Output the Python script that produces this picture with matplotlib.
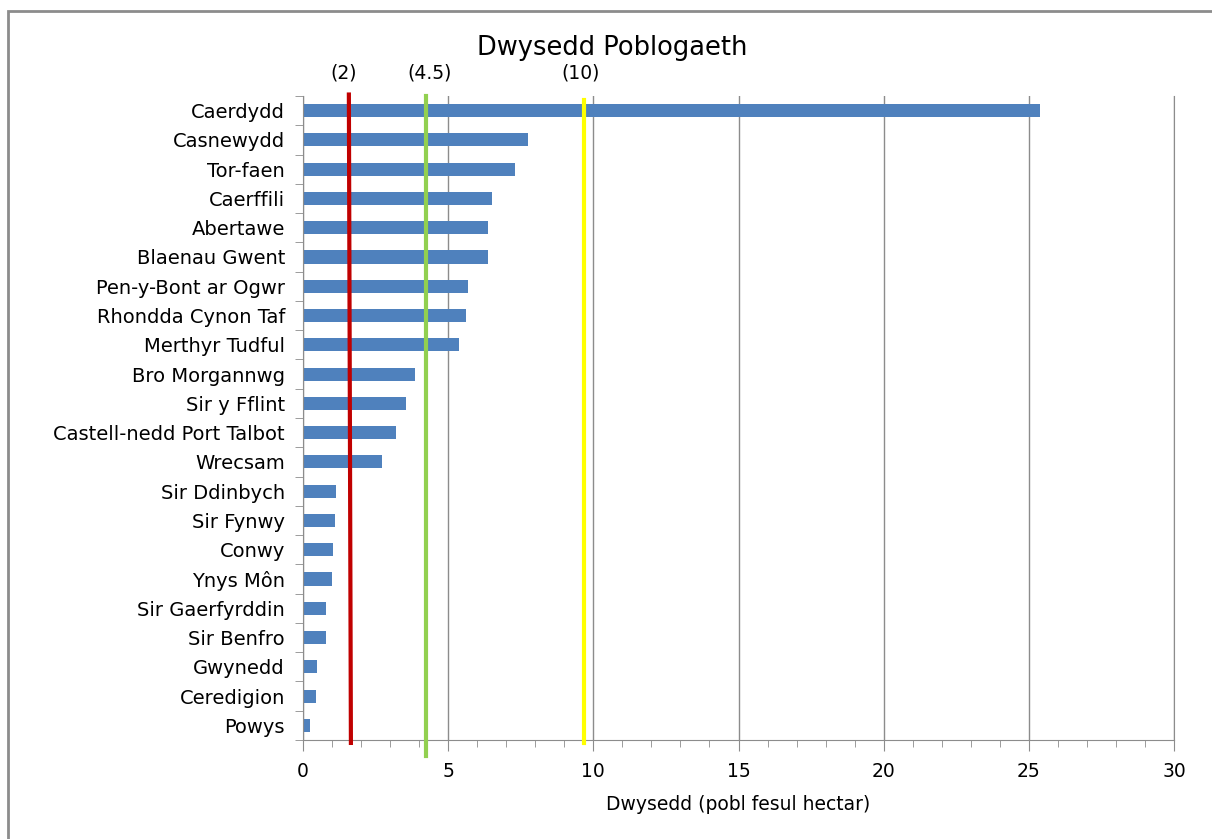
import numpy as np
import matplotlib
matplotlib.use("Agg")
import matplotlib.pyplot as plt
from matplotlib.patches import Rectangle

# data
areas = ["Caerdydd", "Casnewydd", "Tor-faen", "Caerffili", "Abertawe",
         "Blaenau Gwent", "Pen-y-Bont ar Ogwr", "Rhondda Cynon Taf",
         "Merthyr Tudful", "Bro Morgannwg", "Sir y Fflint",
         "Castell-nedd Port Talbot", "Wrecsam", "Sir Ddinbych", "Sir Fynwy",
         "Conwy", "Ynys Môn", "Sir Gaerfyrddin", "Sir Benfro", "Gwynedd",
         "Ceredigion", "Powys"]
density = [25.39, 7.75, 7.30, 6.51, 6.37, 6.37, 5.68, 5.61, 5.37, 3.86, 3.55,
           3.20, 2.72, 1.14, 1.10, 1.03, 1.00, 0.79, 0.79, 0.48, 0.45, 0.24]

# marker lines: (x top, x bottom), label
line_red = (1.58, 1.65)
line_green = (4.24, 4.24)
line_yellow = (9.68, 9.68)
line_labels = ["(2)", "(4.5)", "(10)"]
label_x = [1.4, 4.35, 9.55]

plt.rcParams['font.family'] = ['DejaVu Sans']

fig = plt.figure(figsize=(12.12, 8.39), dpi=100)
fig.patches.append(Rectangle((8/1212, -0.1), 1.2, 1 - 8/839 + 0.1 - 0.003,
                             transform=fig.transFigure, fill=False,
                             edgecolor="#8c8c8c", linewidth=2))
ax = fig.add_axes([303/1212, 1 - 740/839, (1174-303)/1212, (740-96)/839])

y = np.arange(len(areas))
ax.barh(y, density, height=0.45, color="#4F81BD", zorder=2)
ax.set_ylim(len(areas) - 0.5, -0.5)
ax.set_xlim(0, 30)
ax.set_yticks(y)
ax.set_yticklabels(areas, fontsize=14)
ax.set_yticks(np.arange(-0.5, len(areas) + 0.5, 1), minor=True)
ax.tick_params(axis='y', which='major', length=0, pad=13)
ax.tick_params(axis='y', which='minor', length=6, color="#8c8c8c")

ax.set_xticks(np.arange(0, 31, 5))
ax.set_xticks(np.arange(0, 31, 1), minor=True)
ax.tick_params(axis='x', which='major', length=8, color="#8c8c8c", labelsize=13.5, pad=8)
ax.tick_params(axis='x', which='minor', length=5, color="#8c8c8c")
ax.grid(axis='x', which='major', color="#8c8c8c", linewidth=1, zorder=0)
ax.set_axisbelow(True)

ax.spines["top"].set_visible(False)
for s in ["left", "bottom", "right"]:
    ax.spines[s].set_color("#8c8c8c")

ax.set_xlabel("Dwysedd (pobl fesul hectar)", fontsize=13.5, labelpad=10)

# coloured marker lines
ax.plot(line_red, [-0.55, 21.6], color="#C00000", linewidth=3, zorder=3, clip_on=False)
ax.plot(line_green, [-0.5, 22.05], color="#92D050", linewidth=3, zorder=3, clip_on=False)
ax.plot(line_yellow, [-0.35, 21.6], color="#FFFF00", linewidth=3, zorder=3, clip_on=False)

for lx, lab in zip(label_x, line_labels):
    ax.text(lx, -0.95, lab, ha="center", va="bottom", fontsize=13.5)

fig.text(612/1212, 1 - 48/839, "Dwysedd Poblogaeth", ha="center", va="center", fontsize=18.5)

fig.savefig("out.png", dpi=100)
